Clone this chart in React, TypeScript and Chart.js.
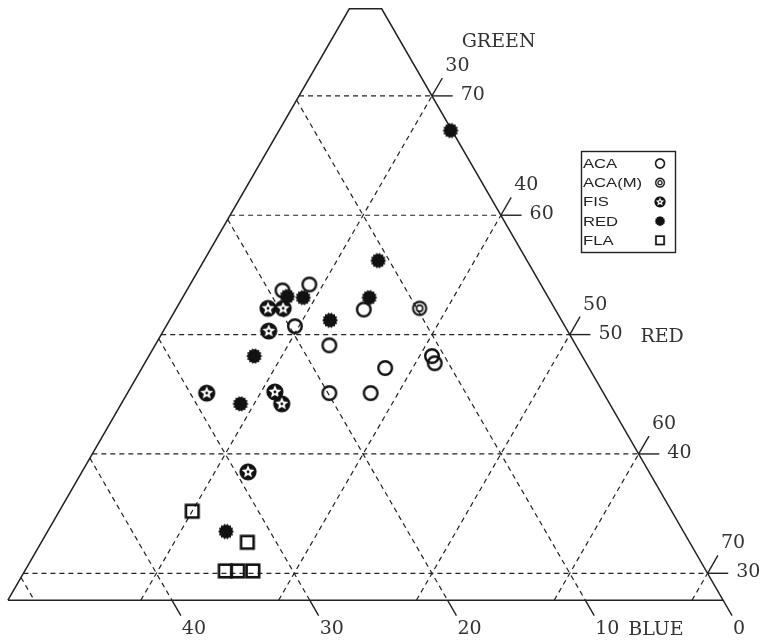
import React, { useEffect, useRef } from "react";
import { Chart, registerables } from "chart.js";
Chart.register(...registerables);

// ---- ternary frame (percent) ----
const G_MIN = 27.75;
const G_MAX = 77.3;
const R_MIN = 20.35;
const GREEN_TICKS = [30, 40, 50, 60, 70];
const RED_TICKS = [30, 40, 50, 60, 70];
const BLUE_GRID = [10, 20, 30, 40, 50];
const BLUE_TICKS = [0, 10, 20, 30, 40];
const AXIS_TITLES = { green: "GREEN", red: "RED", blue: "BLUE" };

// ---- samples: [red, green, blue] ----
const ACA: number[][] = [
  [27.3, 53.7, 19.0],
  [29.0, 54.2, 16.8],
  [29.7, 50.7, 19.6],
  [34.0, 52.1, 13.9],
  [33.0, 49.1, 17.9],
  [38.0, 47.2, 14.8],
  [40.9, 48.2, 10.9],
  [41.4, 47.6, 11.0],
  [35.0, 45.1, 19.9],
  [38.0, 45.1, 16.9],
];
const ACA_M: number[][] = [[38.0, 52.2, 9.8]];
const FIS: number[][] = [
  [27.0, 52.2, 20.8],
  [28.1, 52.2, 19.7],
  [28.0, 50.3, 21.7],
  [26.1, 45.1, 28.8],
  [31.0, 45.2, 23.8],
  [32.0, 44.2, 23.8],
  [32.4, 38.5, 29.1],
];
const RED: number[][] = [
  [32.8, 67.1, 0.1],
  [33.0, 56.2, 10.8],
  [27.9, 53.2, 18.9],
  [29.1, 53.1, 17.8],
  [33.9, 53.1, 13.0],
  [32.0, 51.2, 16.8],
  [28.0, 48.2, 23.8],
  [29.0, 44.2, 26.8],
  [33.3, 33.5, 33.2],
];
const FLA: number[][] = [
  [30.0, 35.2, 34.8],
  [35.3, 32.6, 32.1],
  [34.9, 30.2, 34.9],
  [35.8, 30.2, 34.0],
  [36.9, 30.2, 32.9],
];
const SERIES_NAMES = ["ACA", "ACA(M)", "FIS", "RED", "FLA"];

// ---- layout (view window in cartesian ternary units) ----
const X_MIN = 33.65, X_MAX = 88.95, Y_MIN = 21.14, Y_MAX = 67.58;
const TICK_G = 1.5, TICK_R = 1.5, TICK_B = 1.3;
const SQ = Math.sqrt(3) / 2;
const INK = "#222";

const toXY = (r: number, g: number) => ({ x: r + g / 2, y: g * SQ });

function makeMarker(kind: string, size = 22): HTMLCanvasElement {
  const c = document.createElement("canvas");
  c.width = size; c.height = size;
  const ctx = c.getContext("2d")!;
  const m = size / 2;
  ctx.fillStyle = "#111"; ctx.strokeStyle = "#111";
  if (kind === "ACA") {
    ctx.lineWidth = 2.4;
    ctx.beginPath(); ctx.arc(m, m, 6.8, 0, Math.PI * 2); ctx.stroke();
  } else if (kind === "ACA(M)") {
    ctx.lineWidth = 2.1;
    ctx.beginPath(); ctx.arc(m, m, 6.6, 0, Math.PI * 2); ctx.stroke();
    ctx.lineWidth = 1.6;
    ctx.beginPath(); ctx.arc(m, m, 3.1, 0, Math.PI * 2); ctx.stroke();
  } else if (kind === "FIS") {
    ctx.beginPath(); ctx.arc(m, m, 8.6, 0, Math.PI * 2); ctx.fill();
    ctx.fillStyle = "#fff";
    ctx.beginPath();
    for (let i = 0; i < 10; i++) {
      const a = -Math.PI / 2 + (i * Math.PI) / 5;
      const rr = i % 2 === 0 ? 6.7 : 3.1;
      const px = m + rr * Math.cos(a), py = m + rr * Math.sin(a);
      if (i === 0) ctx.moveTo(px, py); else ctx.lineTo(px, py);
    }
    ctx.closePath(); ctx.fill();
    ctx.fillStyle = "#111";
    ctx.beginPath(); ctx.arc(m, m, 1.4, 0, Math.PI * 2); ctx.fill();
  } else if (kind === "RED") {
    ctx.beginPath();
    const n = 28;
    for (let i = 0; i < n; i++) {
      const a = (i * Math.PI * 2) / n;
      const rr = i % 2 === 0 ? 8.0 : 6.4;
      const px = m + rr * Math.cos(a), py = m + rr * Math.sin(a);
      if (i === 0) ctx.moveTo(px, py); else ctx.lineTo(px, py);
    }
    ctx.closePath(); ctx.fill();
  } else if (kind === "FLA") {
    ctx.lineWidth = 2.6;
    ctx.strokeRect(m - 6.3, m - 6.3, 12.6, 12.6);
  }
  return c;
}

function lineDS(points: { x: number; y: number }[], dashed: boolean, width: number) {
  return {
    data: points,
    showLine: true,
    pointRadius: 0,
    borderColor: INK,
    borderWidth: width,
    borderDash: dashed ? [5, 4] : [],
    clip: false as any,
  };
}

export default function App() {
  const ref = useRef<HTMLCanvasElement>(null);

  useEffect(() => {
    if (!ref.current) return;
    const markers: Record<string, HTMLCanvasElement> = {};
    SERIES_NAMES.forEach((n) => (markers[n] = makeMarker(n)));

    const pts = (arr: number[][]) => arr.map(([r, g]) => toXY(r, g));
    const pointDS = (name: string, arr: number[][]) => ({
      label: name,
      data: pts(arr),
      pointStyle: markers[name] as any,
      pointRadius: 9,
      clip: false as any,
    });

    // frame outline
    const outline = [
      toXY(R_MIN, G_MIN),
      toXY(100 - G_MIN, G_MIN),
      toXY(100 - G_MAX, G_MAX),
      toXY(R_MIN, G_MAX),
      toXY(R_MIN, G_MIN),
    ];
    const grid: any[] = [];
    GREEN_TICKS.forEach((g) => grid.push(lineDS([toXY(R_MIN, g), toXY(100 - g, g)], true, 1.2)));
    RED_TICKS.forEach((r) => grid.push(lineDS([toXY(r, G_MIN), toXY(r, 100 - r)], true, 1.2)));
    BLUE_GRID.forEach((b) =>
      grid.push(lineDS([toXY(R_MIN, 100 - b - R_MIN), toXY(100 - b - G_MIN, G_MIN)], true, 1.2))
    );
    const ticks: any[] = [];
    GREEN_TICKS.forEach((g) => ticks.push(lineDS([toXY(100 - g, g), toXY(100 - g + TICK_G, g)], false, 1.4)));
    RED_TICKS.forEach((r) => ticks.push(lineDS([toXY(r, 100 - r), toXY(r, 100 - r + TICK_R)], false, 1.4)));
    BLUE_TICKS.forEach((b) =>
      ticks.push(lineDS([toXY(100 - b - G_MIN, G_MIN), toXY(100 - b - (G_MIN - TICK_B), G_MIN - TICK_B)], false, 1.4))
    );

    const labelsPlugin = {
      id: "ternaryLabels",
      afterDatasetsDraw(chart: any) {
        const ctx = chart.ctx as CanvasRenderingContext2D;
        const xs = chart.scales.x, ys = chart.scales.y;
        const P = (r: number, g: number) => {
          const p = toXY(r, g);
          return { x: xs.getPixelForValue(p.x), y: ys.getPixelForValue(p.y) };
        };
        ctx.save();
        ctx.fillStyle = "#333";
        ctx.font = "19px 'DejaVu Serif'";
        ctx.textAlign = "left";
        // green (horizontal) tick labels
        ctx.textBaseline = "middle";
        GREEN_TICKS.forEach((g) => {
          const e = P(100 - g + TICK_G, g);
          ctx.fillText(String(g), e.x + 8, e.y - 1);
        });
        ctx.textBaseline = "alphabetic";
        // red (slanted) tick labels
        RED_TICKS.forEach((r) => {
          const e = P(r, 100 - r + TICK_R);
          ctx.fillText(String(r), e.x + 3, e.y - 7);
        });
        // blue (bottom) tick labels
        BLUE_TICKS.forEach((b) => {
          const e = P(100 - b - (G_MIN - TICK_B), G_MIN - TICK_B);
          ctx.fillText(String(b), e.x + 1, e.y + 18);
        });
        // axis titles
        const g70 = P(100 - 70 + TICK_G, 70);
        ctx.fillText(AXIS_TITLES.green, g70.x + 9, g70.y - 49);
        const g50 = P(100 - 50 + TICK_G, 50);
        ctx.fillText(AXIS_TITLES.red, g50.x + 50, g50.y + 7);
        const b10 = P(100 - 10 - (G_MIN - TICK_B), G_MIN - TICK_B);
        ctx.fillText(AXIS_TITLES.blue, b10.x + 34, b10.y + 19);

        // legend box
        const LX = 581, LY = 151, LW = 94, LH = 101;
        ctx.fillStyle = INK;
        ctx.lineWidth = 1.4;
        ctx.strokeStyle = INK;
        ctx.strokeRect(LX + 0.5, LY + 0.5, LW, LH);
        ctx.font = "13px 'Liberation Sans', Arial, sans-serif";
        SERIES_NAMES.forEach((n, i) => {
          const base = 168 + i * 19.2;
          ctx.save();
          ctx.translate(LX + 2, base);
          ctx.scale(1.28, 1);
          ctx.fillText(n, 0, 0);
          ctx.restore();
          const mk = markers[n];
          const s = 0.66;
          ctx.drawImage(mk, 660 - (mk.width * s) / 2, base - 4.5 - (mk.height * s) / 2, mk.width * s, mk.height * s);
        });
        ctx.restore();
      },
    };

    const chart = new Chart(ref.current, {
      type: "scatter",
      data: {
        datasets: [
          pointDS("RED", RED),
          pointDS("FIS", FIS),
          pointDS("ACA(M)", ACA_M),
          pointDS("ACA", ACA),
          pointDS("FLA", FLA),
          lineDS(outline, false, 1.5),
          ...ticks,
          ...grid,
        ] as any,
      },
      options: {
        animation: false,
        responsive: false,
        events: [],
        layout: { padding: 0, autoPadding: false },
        plugins: { legend: { display: false }, tooltip: { enabled: false } },
        scales: {
          x: { type: "linear", min: X_MIN, max: X_MAX, display: false },
          y: { type: "linear", min: Y_MIN, max: Y_MAX, display: false },
        },
      },
      plugins: [labelsPlugin],
    });
    return () => chart.destroy();
  }, []);

  return (
    <div style={{ position: "absolute", left: 0, top: 0, width: 762, height: 640, background: "#fff" }}>
      <canvas ref={ref} width={762} height={640} style={{ display: "block" }} />
    </div>
  );
}
